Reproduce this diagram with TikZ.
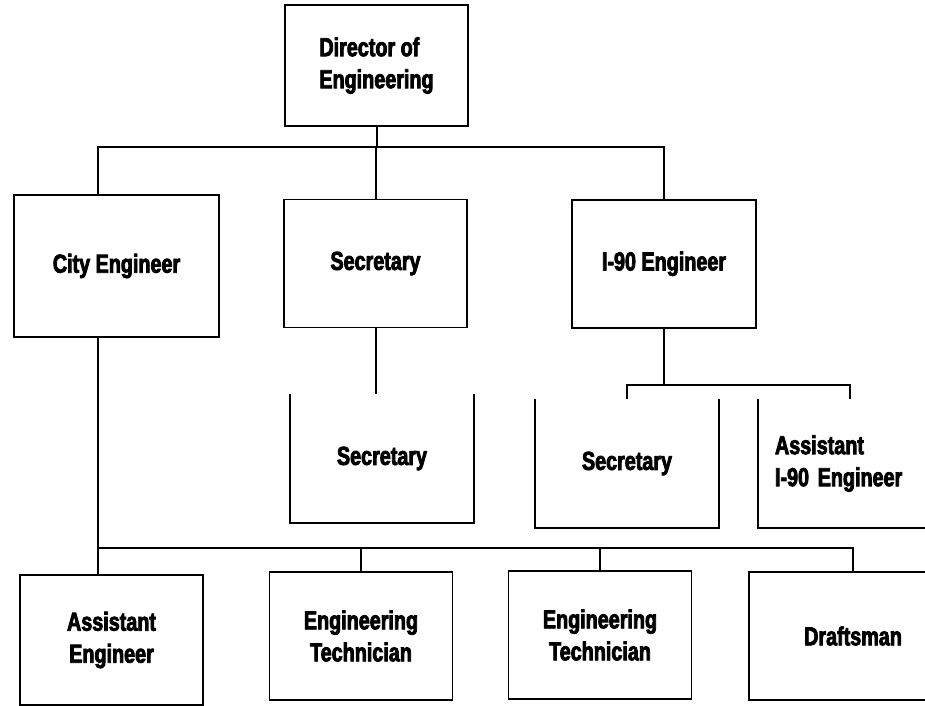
\documentclass[tikz,border=0pt]{standalone}
\usepackage{fontspec}
\newfontfamily\orgfont{Liberation Sans}[FakeStretch=0.76, BoldFeatures={FakeBold=3}]
\usepackage{tikz}
\usetikzlibrary{calc}

\tikzset{
  post/.style={minimum width=183pt, minimum height=128pt, inner sep=0pt, align=center,
    font=\orgfont\bfseries\fontsize{26}{32}\selectfont},
  postbox/.style={post, draw},
  link/.style={line width=2pt}
}
\newcommand{\up}[2]{\raisebox{#1}{#2}}

\begin{document}
\begin{tikzpicture}[x=1pt,y=-1pt,line width=1.6pt,line join=miter]
    \useasboundingbox (0,0) rectangle (925,705);
    % top
    \node[postbox, minimum height=121pt, align=left] (dir) at (376.5,65.5) {Director of\\Engineering};
    % second row
    \node[postbox, minimum width=205pt, minimum height=142pt] (city) at (116.5,266) {\up{5pt}{City Engineer}};
    \node[postbox] (sec) at (375.5,263.5) {Secretary};
    \node[postbox, minimum width=184pt] (ieng) at (664,264) {\up{6pt}{I-90 Engineer}};
    % third row, open at the top
    \node[post, minimum width=182pt, minimum height=127pt] (secb) at (382,458.5) {\up{5pt}{Secretary}};
    \node[post, minimum width=182pt, minimum height=127pt] (secc) at (627,463.5) {\up{5pt}{Secretary}};
    \node[post, minimum height=127pt, text width=150pt, align=left] (asst) at (850,463.5) {Assistant\\I-90 Engineer};
    \foreach \n in {secb,secc,asst}
      \draw (\n.north west) -- (\n.south west) -- (\n.south east) -- (\n.north east);
    % bottom row
    \node[postbox, minimum height=130pt] (aeng) at (111.5,640) {Assistant\\Engineer};
    \node[postbox] (techa) at (361,636) {Engineering\\Technician};
    \node[postbox] (techb) at (600,635) {Engineering\\Technician};
    \node[postbox, minimum width=208pt] (draft) at (853,636) {\up{-6pt}{Draftsman}};

    % connectors
    \coordinate (busa) at (0,147);
    \coordinate (busb) at (0,385);
    \coordinate (busc) at (0,548);
    \coordinate (cdrop) at (98,0);
    \draw[link] (dir.south) -- (dir.south |- busa);
    \draw[link] (cdrop |- city.north) -- (cdrop |- busa) -- (ieng.north |- busa) -- (ieng.north);
    \draw[link] (sec.north) -- (sec.north |- busa);
    \draw[link] (sec.south) -- (sec.south |- secb.north);
    \draw[link] (ieng.south) -- (ieng.south |- busb);
    \draw[link] (secc.north) -- (secc.north |- busb) -- (asst.north |- busb) -- (asst.north);
    \draw[link] (cdrop |- city.south) -- (cdrop |- aeng.north);
    \draw[link] (cdrop |- busc) -- (draft.north |- busc) -- (draft.north);
    \draw[link] (techa.north) -- (techa.north |- busc);
    \draw[link] (techb.north) -- (techb.north |- busc);
  \end{tikzpicture}
\end{document}
